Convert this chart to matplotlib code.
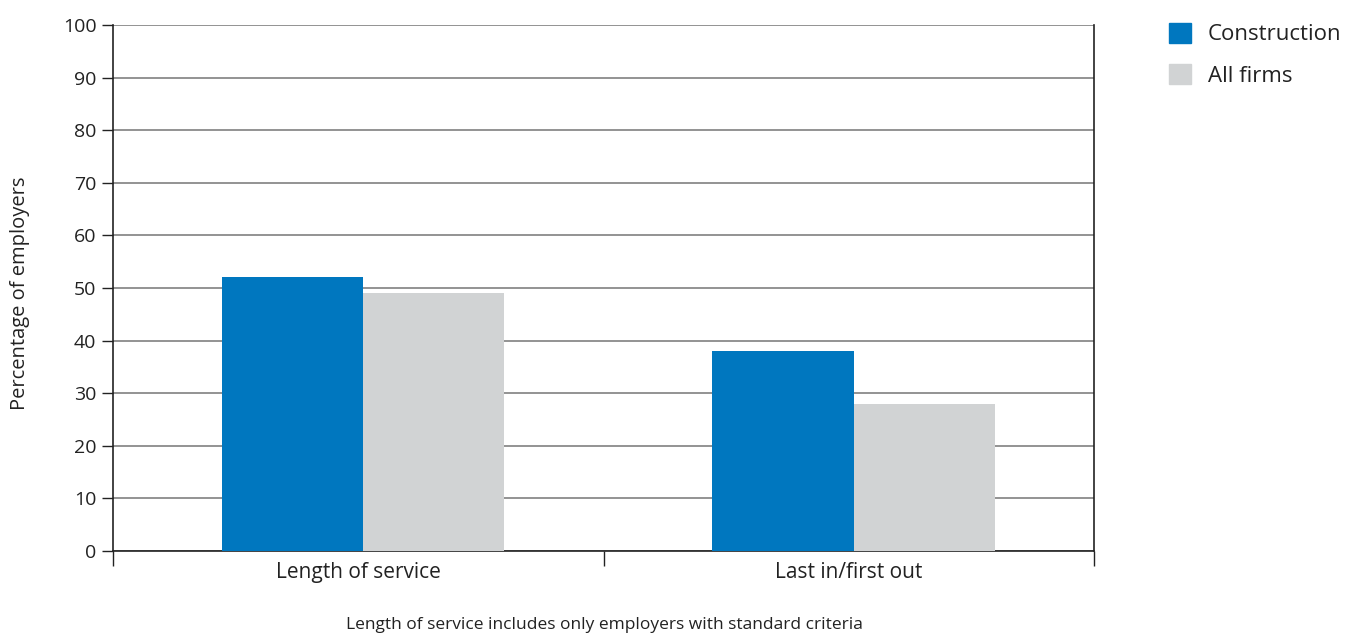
import numpy as np
import matplotlib.pyplot as plt
from matplotlib.patches import Patch

# Data
categories = ["Length of service", "Last in/first out"]
construction = [52, 38]
all_firms = [49, 28]
series_names = ["Construction", "All firms"]
colors = ["#0077bf", "#d1d3d4"]
yticks = list(range(0, 101, 10))

plt.rcParams['font.family'] = ['Open Sans', 'DejaVu Sans']

fig = plt.figure(figsize=(13.6, 6.33), dpi=100)
ax = fig.add_axes([113 / 1360, 1 - 551 / 633, (1094 - 113) / 1360, (551 - 25) / 633])

x = np.arange(len(categories))
w = 0.288
ax.bar(x + 0.01 - w / 2, construction, width=w, color=colors[0], zorder=3)
ax.bar(x + 0.01 + w / 2, all_firms, width=w, color=colors[1], zorder=3)

ax.set_xlim(-0.5, len(categories) - 0.5)
ax.set_ylim(0, 100)
ax.set_yticks(yticks)
ax.tick_params(axis='y', length=8, width=1, colors='#222222', labelsize=14, pad=4)
ax.yaxis.grid(True, color='#808080', linewidth=1.2, zorder=0)

# category boundaries as ticks, labels at centres
ax.set_xticks(np.arange(-0.5, len(categories)), labels=[])
ax.tick_params(axis='x', which='major', length=11, width=1, colors='#222222')
ax.set_xticks(x, labels=categories, minor=True)
ax.tick_params(axis='x', which='minor', length=0, labelsize=15, pad=8, labelcolor='#222222')

for side in ['left', 'right', 'bottom']:
    ax.spines[side].set_color('#222222')
    ax.spines[side].set_linewidth(1.2)
ax.spines['top'].set_visible(False)

ax.set_ylabel("Percentage of employers", fontsize=14.5, color='#222222')
ax.yaxis.set_label_coords(-0.085, 0.49)

handles = [Patch(color=c) for c in colors]
fig.legend(handles, series_names, loc='upper left', bbox_to_anchor=(1160 / 1360, 1 - 14 / 633),
           borderaxespad=0, frameon=False, fontsize=16, handlelength=1.0, handleheight=1.0,
           handletextpad=0.75, labelspacing=0.85, labelcolor='#222222')

fig.text(604 / 1360, 1 - 625 / 633, "Length of service includes only employers with standard criteria",
         ha='center', va='center', fontsize=12.5, color='#222222')

fig.savefig("out.png", dpi=100)
